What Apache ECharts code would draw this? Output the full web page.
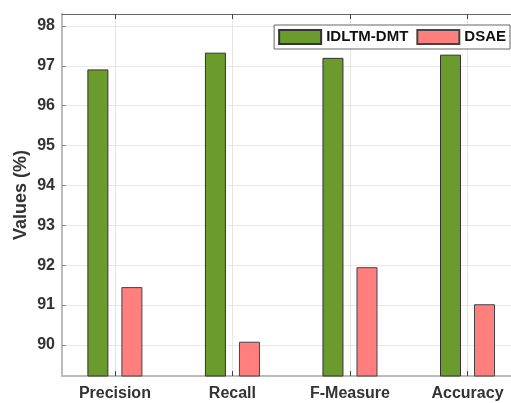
<!DOCTYPE html>
<html><head><meta charset="utf-8">
<script src="https://cdn.jsdelivr.net/npm/echarts@6/dist/echarts.min.js"></script>
<style>html,body{margin:0;padding:0;background:#fff}#c{width:511px;height:403px}</style>
</head><body><div id="c"></div>
<script>
const categories = ['Precision', 'Recall', 'F-Measure', 'Accuracy'];
const idltm = [96.91, 97.33, 97.2, 97.28];
const dsae = [91.45, 90.08, 91.95, 91.02];
const yTicks = [90, 91, 92, 93, 94, 95, 96, 97, 98];
const xPos = [1, 2, 3, 4];

const font = '"Liberation Sans", Arial, sans-serif';
const chart = echarts.init(document.getElementById('c'));
chart.setOption({
  animation: false,
  backgroundColor: '#fff',
  grid: { left: 62, top: 14, right: 0, bottom: 27, outerBoundsMode: 'none', containLabel: false },
  legend: {
    right: 1, top: 25, orient: 'horizontal',
    icon: 'rect',
    itemWidth: 42, itemHeight: 14, itemGap: 8,
    padding: [4, 4, 4, 4],
    borderColor: '#666', borderWidth: 1, backgroundColor: '#fff',
    textStyle: { fontFamily: font, fontWeight: 'bold', fontSize: 15, color: '#111' },
    data: ['IDLTM-DMT', 'DSAE']
  },
  xAxis: [{
    type: 'value', min: 0.55, max: 4.37, position: 'bottom',
    axisLine: { show: true, lineStyle: { color: '#bbb', width: 2 } },
    axisTick: { show: true, customValues: xPos, inside: true, length: 5, lineStyle: { color: '#444' } },
    axisLabel: { customValues: xPos, formatter: v => categories[Math.round(v) - 1] || '',
      fontFamily: font, fontWeight: 'bold', fontSize: 16, color: '#333', margin: 10 },
    splitLine: { show: false }
  }, {
    type: 'value', min: 0.55, max: 4.37, position: 'top',
    axisLine: { show: true, lineStyle: { color: '#666', width: 1 } },
    axisTick: { show: true, customValues: xPos, inside: true, length: 5, lineStyle: { color: '#444' } },
    axisLabel: { show: false },
    splitLine: { show: false }
  }],
  yAxis: {
    type: 'value', min: 89.22, max: 98.3,
    name: 'Values (%)', nameLocation: 'middle', nameGap: 32, nameMoveOverlap: false,
    nameTextStyle: { fontFamily: font, fontWeight: 'bold', fontSize: 18, color: '#333' },
    axisLine: { show: true, lineStyle: { color: '#bbb', width: 2 } },
    axisTick: { show: true, customValues: yTicks, inside: true, length: 4, lineStyle: { color: '#888' } },
    axisLabel: { customValues: yTicks, fontFamily: font, fontWeight: 'bold', fontSize: 16, color: '#333', margin: 7 },
    splitLine: { show: true, lineStyle: { color: '#e8e8e8', width: 1 } }
  },
  series: [{
    name: 'grid', type: 'line', data: [], z: 0, silent: true,
    markLine: {
      silent: true, symbol: 'none', label: { show: false }, z: 0,
      lineStyle: { color: '#e4e4e4', width: 1, type: 'solid' },
      data: xPos.map(x => ({ xAxis: x }))
    }
  }, {
    name: 'IDLTM-DMT', type: 'bar', barWidth: 21, barGap: '62%',
    itemStyle: { color: '#6b9b2d', borderColor: '#333', borderWidth: 1 },
    data: xPos.map((x, i) => [x, idltm[i]]),
    z: 3
  }, {
    name: 'DSAE', type: 'bar', barWidth: 21, barGap: '62%',
    itemStyle: { color: '#ff7f7f', borderColor: '#444', borderWidth: 1 },
    data: xPos.map((x, i) => [x, dsae[i]]),
    z: 3
  }]
});
</script></body></html>
